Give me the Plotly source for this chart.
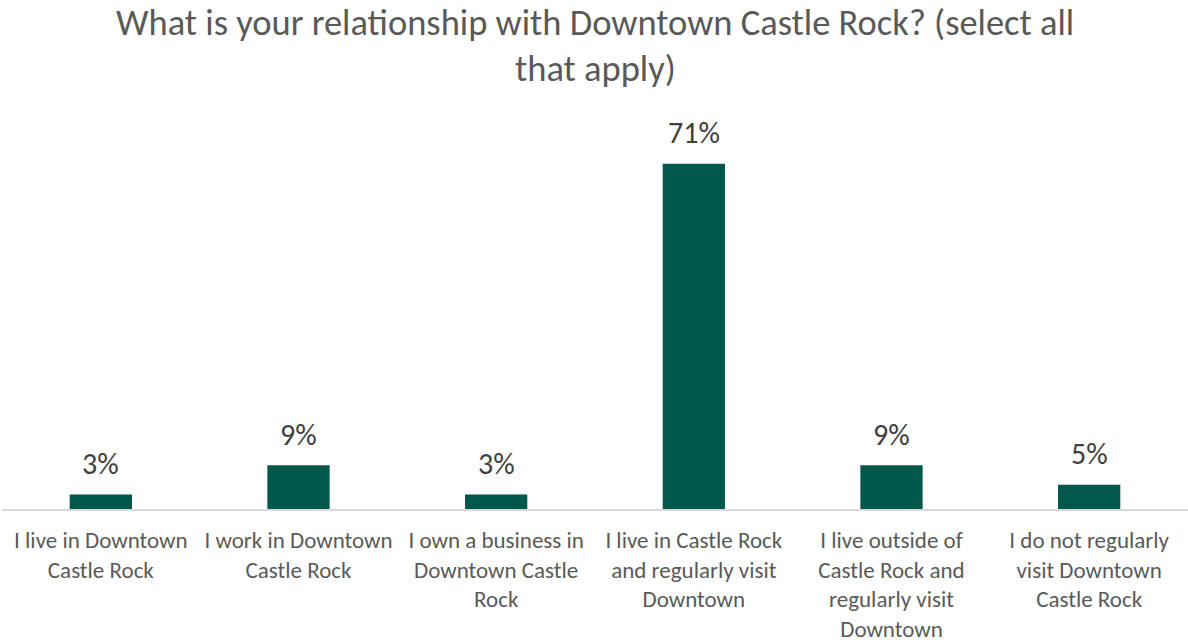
import plotly.graph_objects as go

categories = [
    "I live in Downtown<br>Castle Rock",
    "I work in Downtown<br>Castle Rock",
    "I own a business in<br>Downtown Castle<br>Rock",
    "I live in Castle Rock<br>and regularly visit<br>Downtown",
    "I live outside of<br>Castle Rock and<br>regularly visit<br>Downtown",
    "I do not regularly<br>visit Downtown<br>Castle Rock",
]
values = [3, 9, 3, 71, 9, 5]
value_labels = ["3%", "9%", "3%", "71%", "9%", "5%"]
title_lines = [
    "What is your relationship with Downtown Castle Rock? (select all",
    "that apply)",
]

FONT = "Carlito, Calibri, Lato, sans-serif"
BAR_COLOR = "#00574B"

fig = go.Figure(
    go.Bar(
        x=categories,
        y=values,
        marker=dict(color=BAR_COLOR, line=dict(width=0)),
        hoverinfo="skip",
    )
)

# value labels above each bar
for cat, val, lab in zip(categories, values, value_labels):
    fig.add_annotation(
        x=cat, y=val, text=lab, showarrow=False,
        yanchor="middle", yshift=31,
        font=dict(family=FONT, size=30, color="#404040"),
    )

# two-line chart title
for line, shift in zip(title_lines, [98, 52]):
    fig.add_annotation(
        xref="paper", yref="paper", x=0.5, y=1, text=line,
        showarrow=False, xanchor="center", yanchor="middle", yshift=shift,
        font=dict(family=FONT, size=36.5, color="#595959"),
    )

fig.update_layout(
    width=1188, height=642,
    margin=dict(l=2, r=0, t=120, b=133),
    paper_bgcolor="white", plot_bgcolor="white",
    bargap=0.685,
    showlegend=False,
    xaxis=dict(
        showline=True, linecolor="#D9D9D9", linewidth=2,
        ticks="", showgrid=False, ticklabelstandoff=9,
        tickfont=dict(family=FONT, size=23, color="#595959"),
    ),
    yaxis=dict(range=[0, 80], visible=False, showgrid=False),
)

fig.write_html("out.html")
